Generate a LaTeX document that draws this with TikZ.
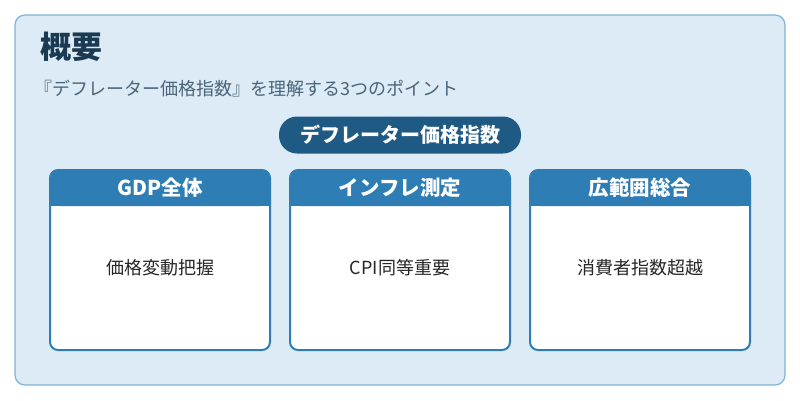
\documentclass[tikz,border=0pt]{standalone}
\usepackage{fontspec}
\setmainfont{Noto Sans CJK JP}
\definecolor{bgc}{HTML}{DCEBF6}
\definecolor{bdc}{HTML}{7DB3D9}
\definecolor{pill}{HTML}{1F5A85}
\definecolor{hdr}{HTML}{2E7DB5}
\definecolor{ttl}{HTML}{1A3A52}
\definecolor{sub}{HTML}{4A6478}
\begin{document}
\begin{tikzpicture}[x=1pt,y=-1pt,
  hd/.style={font=\fontsize{20.5}{22}\selectfont\bfseries,text=white},
  bd/.style={font=\fontsize{18}{20}\selectfont,text=black!85}]
\useasboundingbox (0,0) rectangle (800,400);
\fill[white] (0,0) rectangle (800,400);
\draw[bdc,fill=bgc,line width=1.2pt,rounded corners=10pt] (15,15) rectangle (785,385);
\node[anchor=west,font=\fontsize{31}{34}\selectfont\bfseries,text=ttl,inner sep=0pt] (t) at (40,47) {概要};
\node[anchor=west,font=\fontsize{18}{20}\selectfont,text=sub,inner sep=0pt] (s) at (34,89) {『デフレーター価格指数』を理解する3つのポイント};
\node[fill=pill,rounded corners=18pt,minimum width=242pt,minimum height=37pt,inner sep=0pt,font=\fontsize{20}{22}\selectfont\bfseries,text=white] (p) at (400,135) {デフレーター価格指数};
\foreach \x/\h/\b/\n in {50/GDP全体/価格変動把握/a,290/インフレ測定/CPI同等重要/b,530/広範囲総合/消費者指数超越/c}{
  \draw[hdr,fill=white,line width=2pt,rounded corners=8pt] (\x,170) rectangle (\x+220,350);
  \fill[hdr,rounded corners=8pt] (\x,170) rectangle (\x+220,206);
  \fill[hdr] (\x,195) rectangle (\x+220,206);
  \node[hd] (h\n) at (\x+110,188) {\h};
  \node[bd] (b\n) at (\x+110,268) {\b};
}
\end{tikzpicture}
\end{document}
